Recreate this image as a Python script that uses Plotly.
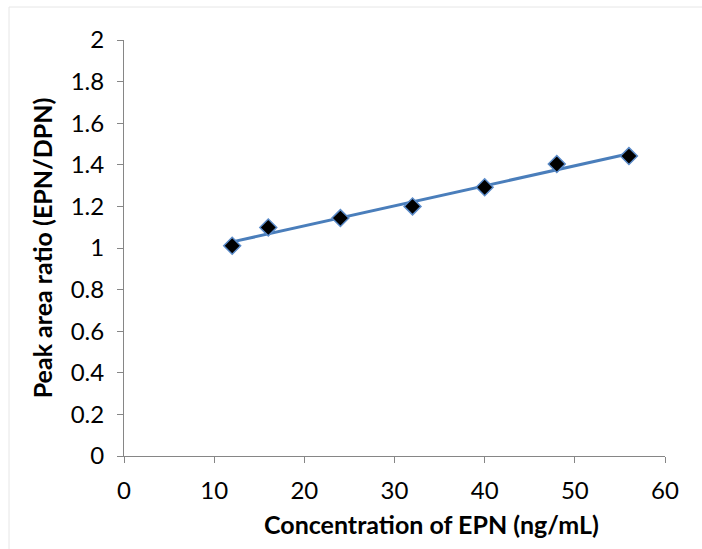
import numpy as np
import plotly.graph_objects as go

conc = [12, 16, 24, 32, 40, 48, 56]
ratio = [1.011, 1.099, 1.144, 1.200, 1.292, 1.404, 1.442]
x_ticks = [0, 10, 20, 30, 40, 50, 60]
y_ticks = [0, 0.2, 0.4, 0.6, 0.8, 1, 1.2, 1.4, 1.6, 1.8, 2]
y_labels = ["0", "0.2", "0.4", "0.6", "0.8", "1", "1.2", "1.4", "1.6", "1.8", "2"]

slope, intercept = np.polyfit(conc, ratio, 1)
fit_x = [min(conc), max(conc)]
fit_y = [slope * v + intercept for v in fit_x]

FONT = "Lato"
fig = go.Figure()
fig.add_trace(go.Scatter(x=fit_x, y=fit_y, mode="lines",
                         line=dict(color="#4a7ebb", width=3), showlegend=False))
fig.add_trace(go.Scatter(x=conc, y=ratio, mode="markers",
                         marker=dict(symbol="diamond", size=13, color="black",
                                     line=dict(color="#5b8bc9", width=1.5)),
                         showlegend=False))

fig.update_layout(
    width=702, height=549,
    margin=dict(l=124, r=37, t=40, b=93),
    paper_bgcolor="white", plot_bgcolor="white",
    font=dict(family=FONT, color="black", size=24),
    xaxis=dict(range=[0, 60], tickvals=x_ticks, ticks="outside", ticklen=6,
               tickcolor="#868686", showline=True, linecolor="#868686", linewidth=1,
               showgrid=False, zeroline=False, tickfont=dict(size=24),
               ticklabelstandoff=7),
    yaxis=dict(range=[0, 2], tickvals=y_ticks, ticktext=y_labels, ticks="outside", ticklen=6,
               tickcolor="#868686", showline=True, linecolor="#868686", linewidth=1,
               showgrid=False, zeroline=False, tickfont=dict(size=24),
               ticklabelstandoff=8,
               title=dict(text="<b>Peak area ratio (EPN/DPN)</b>", font=dict(size=25), standoff=10)),
    annotations=[dict(text="<b>Concentration of EPN (ng/mL)</b>", xref="paper", yref="paper",
                      x=(431 - 124) / 541, y=(456 - 524) / 416, xanchor="center", yanchor="middle",
                      showarrow=False, font=dict(size=25, family=FONT, color="black"))],
    shapes=[dict(type="rect", xref="paper", yref="paper",
                 x0=(9 - 124) / 541, x1=1.2, y0=-0.3, y1=(456 - 7) / 416,
                 line=dict(color="#e6e6e6", width=1), fillcolor="rgba(0,0,0,0)", layer="below")],
)
fig.write_html("out.html")
